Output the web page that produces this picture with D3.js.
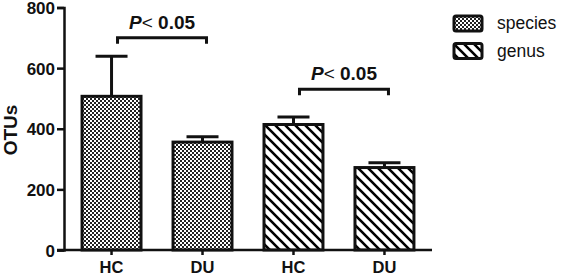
<!DOCTYPE html>
<html><head><meta charset="utf-8">
<script src="https://cdn.jsdelivr.net/npm/d3@7"></script>
<style>body{margin:0;background:#fff}svg{display:block}</style>
</head><body>
<svg id="c" width="564" height="275"></svg>
<script>
const categories = ["HC", "DU", "HC", "DU"];
const series = ["species", "species", "genus", "genus"];
const values = [507, 356, 414, 272];
const errors = [132, 18, 25, 16];
const yTicks = [0, 200, 400, 600, 800];
const legendLabels = ["species", "genus"];
const sigPairs = [[0, 1, 700], [2, 3, 530]];
const sigText = ["P", "<", " 0.05"];

const svg = d3.select("#c");
const defs = svg.append("defs");
const chk = defs.append("pattern").attr("id","chk").attr("patternUnits","userSpaceOnUse")
  .attr("width",4).attr("height",4);
chk.append("rect").attr("width",4).attr("height",4).attr("fill","#fff");
chk.append("rect").attr("width",2).attr("height",2).attr("fill","#222");
chk.append("rect").attr("x",2).attr("y",2).attr("width",2).attr("height",2).attr("fill","#222");
const hat = defs.append("pattern").attr("id","hat").attr("patternUnits","userSpaceOnUse")
  .attr("width",10).attr("height",10);
hat.append("rect").attr("width",10).attr("height",10).attr("fill","#fff");
hat.append("path").attr("d","M-2,-2L12,12M-2,8L2,12M8,-2L12,2").attr("stroke","#000").attr("stroke-width",2.6);
const fillFor = s => s === "species" ? "url(#chk)" : "url(#hat)";

const x = d3.scaleBand().domain(d3.range(categories.length)).range([66, 430]).paddingInner(0.319).paddingOuter(0.16);
const y = d3.scaleLinear().domain([0, 800]).range([250, 7.5]);

const font = "Liberation Sans, Arial, sans-serif";

// bars
svg.append("g").selectAll("rect").data(values).join("rect")
  .attr("x", (d,i)=>x(i)+1.5).attr("y", d=>y(d))
  .attr("width", x.bandwidth()-3).attr("height", d=>y(0)-y(d))
  .attr("fill", (d,i)=>fillFor(series[i])).attr("stroke","#111").attr("stroke-width",3);

// error bars
const eg = svg.append("g").attr("stroke","#111").attr("stroke-width",3);
values.forEach((v,i)=>{
  const cx = x(i)+x.bandwidth()/2;
  eg.append("line").attr("x1",cx).attr("x2",cx).attr("y1",y(v)).attr("y2",y(v+errors[i]));
  eg.append("line").attr("x1",cx-16).attr("x2",cx+16).attr("y1",y(v+errors[i])).attr("y2",y(v+errors[i]));
});

// y axis
const ya = svg.append("g").attr("transform","translate(64,0)")
  .call(d3.axisLeft(y).tickValues(yTicks).tickSize(7).tickPadding(2));
ya.select(".domain").attr("stroke","#111").attr("stroke-width",2.5);
ya.selectAll(".tick line").attr("stroke","#111").attr("stroke-width",2.5);
ya.selectAll(".tick text").attr("font-family",font).attr("font-weight","bold").attr("font-size",17).attr("fill","#111").attr("dy","0.36em");

// x axis
svg.append("line").attr("x1",57).attr("x2",432).attr("y1",y(0)).attr("y2",y(0)).attr("stroke","#111").attr("stroke-width",2.5);
const xg = svg.append("g");
categories.forEach((c,i)=>{
  const cx = x(i)+x.bandwidth()/2;
  xg.append("line").attr("x1",cx).attr("x2",cx).attr("y1",y(0)).attr("y2",y(0)+5).attr("stroke","#111").attr("stroke-width",2.5);
  xg.append("text").attr("x",cx).attr("y",272.5).attr("text-anchor","middle")
    .attr("font-family",font).attr("font-weight","bold").attr("font-size",16.5).attr("fill","#111").text(c);
});

// y label
svg.append("text").attr("transform","translate(17,130) rotate(-90)").attr("text-anchor","middle")
  .attr("font-family",font).attr("font-weight","bold").attr("font-size",19).attr("fill","#111").text("OTUs");

// significance brackets
sigPairs.forEach(([a,b,lv])=>{
  const x1 = x(a)+x.bandwidth()/2+6, x2 = x(b)+x.bandwidth()/2+4;
  const yy = y(lv);
  svg.append("path").attr("d",`M${x1},${yy+6}V${yy}H${x2}V${yy+6}`).attr("fill","none").attr("stroke","#111").attr("stroke-width",3);
  const t = svg.append("text").attr("x",(x1+x2)/2).attr("y",yy-9).attr("text-anchor","middle")
    .attr("font-family",font).attr("font-size",19).attr("fill","#111");
  t.append("tspan").attr("font-weight","bold").attr("font-style","italic").text(sigText[0]);
  t.append("tspan").attr("font-weight","normal").text(sigText[1]);
  t.append("tspan").attr("font-weight","bold").text(sigText[2]);
});

// legend
legendLabels.forEach((l,i)=>{
  const ly = 16 + i*27.5;
  svg.append("rect").attr("x",454).attr("y",ly).attr("width",28).attr("height",15).attr("rx",2)
    .attr("fill",fillFor(l)).attr("stroke","#111").attr("stroke-width",3);
  svg.append("text").attr("x",497).attr("y",ly+13).attr("font-family",font).attr("font-size",17.5).attr("fill","#111").text(l);
});
</script>
</body></html>
